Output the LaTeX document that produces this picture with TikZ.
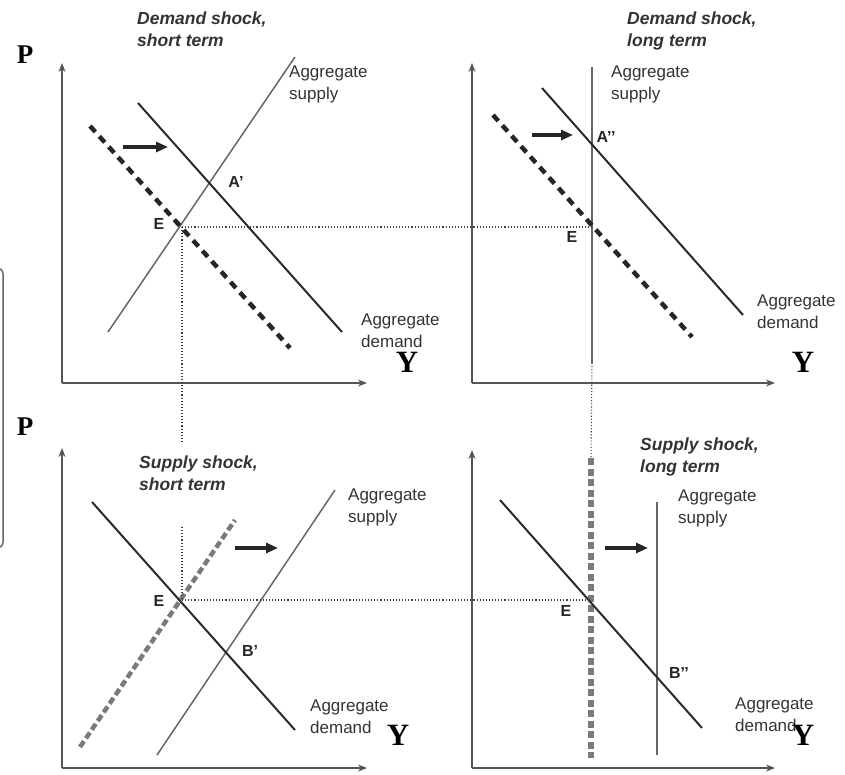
\documentclass[tikz,border=0pt]{standalone}
\usepackage{fontspec}
\setmainfont{Liberation Sans}
\newfontfamily\serifPY{Liberation Serif}
\usetikzlibrary{arrows.meta}
\definecolor{axisgray}{HTML}{555555}
\definecolor{asgray}{HTML}{666666}
\definecolor{adblack}{HTML}{2A2A2A}
\definecolor{dashgray}{HTML}{7A7A7A}
\tikzset{
  axisline/.style={draw=axisgray, line width=1.4pt, -{Stealth[length=9pt,width=7pt]}},
  asline/.style={draw=asgray, line width=1.5pt},
  adline/.style={draw=adblack, line width=2pt},
  addash/.style={draw=black!85, line width=4.5pt, dash pattern=on 8pt off 6pt},
  asdash/.style={draw=dashgray, line width=5pt, dash pattern=on 7pt off 3.5pt},
  guide/.style={draw=black!75, line width=1.1pt, dotted},
  shift arrow/.style={draw=black!85, line width=3.5pt, -{Triangle[length=12pt,width=10pt]}},
  lbl/.style={inner sep=0pt, anchor=north west, align=left, text=black!80, font=\fontsize{17}{21.5}\selectfont},
  ttl/.style={inner sep=0pt, anchor=north west, align=left, text=black!80, font=\fontsize{17.5}{22}\selectfont\bfseries\itshape},
  pt/.style={inner sep=0pt, text=black!85, font=\fontsize{16}{18}\selectfont\bfseries},
  axlbl/.style={inner sep=0pt, text=black, font=\serifPY\bfseries\fontsize{27}{30}\selectfont},
  ylbl/.style={inner sep=0pt, text=black, font=\serifPY\bfseries\fontsize{31}{32}\selectfont},
}
\begin{document}
\begin{tikzpicture}[x=1pt,y=-1pt]
\useasboundingbox (0,0) rectangle (845,774);
% left bracket
\draw[draw=asgray, line width=1.5pt, rounded corners=6pt] (-12,268) -- (3,268) -- (3,548) -- (-12,548);

% ===== Top-left: demand shock, short term =====
\coordinate (o1) at (62,383);
\coordinate (p1) at (62,63);
\coordinate (y1) at (367,383);
\draw[axisline] (o1) -- (p1);
\draw[axisline] (o1) -- (y1);
\coordinate (as1a) at (108,332); \coordinate (as1b) at (295,57);
\draw[asline] (as1a) -- (as1b);
\coordinate (ad1a) at (90,126); \coordinate (ad1b) at (290,348);
\draw[addash] (ad1a) -- (ad1b);
\coordinate (adn1a) at (138,103); \coordinate (adn1b) at (342,332);
\draw[adline] (adn1a) -- (adn1b);
\coordinate (sh1a) at (123,147); \coordinate (sh1b) at (168,147);
\draw[shift arrow] (sh1a) -- (sh1b);
\node[ttl] (t1) at (137,12) {Demand shock,\\short term};
\node[lbl] (as1l) at (289,66) {Aggregate\\supply};
\node[lbl] (ad1l) at (361,314) {Aggregate\\demand};
\node[pt] (A1) at (236,182) {A’};
\node[pt] (E1) at (159,224) {E};
\node[axlbl] (P1) at (25,55) {P};
\node[ylbl] (Y1) at (407,362) {Y};

% ===== Top-right: demand shock, long term =====
\coordinate (o2) at (472,383);
\coordinate (p2) at (472,63);
\coordinate (y2) at (775,383);
\draw[axisline] (o2) -- (p2);
\draw[axisline] (o2) -- (y2);
\coordinate (as2a) at (592,67); \coordinate (as2b) at (592,363);
\draw[asline] (as2a) -- (as2b);
\coordinate (ad2a) at (493,115); \coordinate (ad2b) at (692,337);
\draw[addash] (ad2a) -- (ad2b);
\coordinate (adn2a) at (542,88); \coordinate (adn2b) at (743,315);
\draw[adline] (adn2a) -- (adn2b);
\coordinate (sh2a) at (532,135); \coordinate (sh2b) at (573,135);
\draw[shift arrow] (sh2a) -- (sh2b);
\node[ttl] (t2) at (627,12) {Demand shock,\\long term};
\node[lbl] (as2l) at (611,66) {Aggregate\\supply};
\node[lbl] (ad2l) at (757,295) {Aggregate\\demand};
\node[pt] (A2) at (606,137) {A’’};
\node[pt] (E2) at (572,237) {E};
\node[ylbl] (Y2) at (803,362) {Y};

% ===== Bottom-left: supply shock, short term =====
\coordinate (o3) at (62,768);
\coordinate (p3) at (62,448);
\coordinate (y3) at (367,768);
\draw[axisline] (o3) -- (p3);
\draw[axisline] (o3) -- (y3);
\coordinate (as3da) at (80,747); \coordinate (as3db) at (235,520);
\draw[asdash, line width=4.5pt] (as3da) -- (as3db);
\coordinate (as3a) at (157,755); \coordinate (as3b) at (335,490);
\draw[asline] (as3a) -- (as3b);
\coordinate (ad3a) at (92,502); \coordinate (ad3b) at (295,730);
\draw[adline] (ad3a) -- (ad3b);
\coordinate (sh3a) at (235,548); \coordinate (sh3b) at (278,548);
\draw[shift arrow] (sh3a) -- (sh3b);
\node[ttl] (t3) at (139,456) {Supply shock,\\short term};
\node[lbl] (as3l) at (348,489) {Aggregate\\supply};
\node[lbl] (ad3l) at (310,700) {Aggregate\\demand};
\node[pt] (B1) at (250,651) {B’};
\node[pt] (E3) at (159,601) {E};
\node[axlbl] (P3) at (25,427) {P};
\node[ylbl] (Y3) at (398,735) {Y};

% ===== Bottom-right: supply shock, long term =====
\coordinate (o4) at (472,768);
\coordinate (p4) at (472,450);
\coordinate (y4) at (775,768);
\draw[axisline] (o4) -- (p4);
\draw[axisline] (o4) -- (y4);
\coordinate (as4da) at (591,458); \coordinate (as4db) at (591,758);
\draw[asdash, line width=6pt] (as4da) -- (as4db);
\coordinate (as4a) at (657,502); \coordinate (as4b) at (657,755);
\draw[asline] (as4a) -- (as4b);
\coordinate (ad4a) at (500,500); \coordinate (ad4b) at (702,728);
\draw[adline] (ad4a) -- (ad4b);
\coordinate (sh4a) at (605,548); \coordinate (sh4b) at (648,548);
\draw[shift arrow] (sh4a) -- (sh4b);
\node[ttl] (t4) at (640,438) {Supply shock,\\long term};
\node[lbl] (as4l) at (678,490) {Aggregate\\supply};
\node[lbl] (ad4l) at (735,698) {Aggregate\\demand};
\node[pt] (B2) at (679,673) {B’’};
\node[pt] (E4) at (566,611) {E};
\node[ylbl] (Y4) at (803,735) {Y};

% ===== dotted guides =====
\coordinate (eq1) at (182,227);
\coordinate (eq2) at (592,227);
\coordinate (eq3) at (182,600);
\coordinate (eq4) at (591,600);
\coordinate (g1) at (182,443);
\coordinate (g2) at (182,527);
\draw[guide] (eq1) -- (eq2);
\draw[guide] (eq1) -- (g1);
\draw[guide] (g2) -- (eq3);
\draw[guide] (eq3) -- (eq4);
\draw[guide] (as2b) -- (as4da);
\end{tikzpicture}
\end{document}
